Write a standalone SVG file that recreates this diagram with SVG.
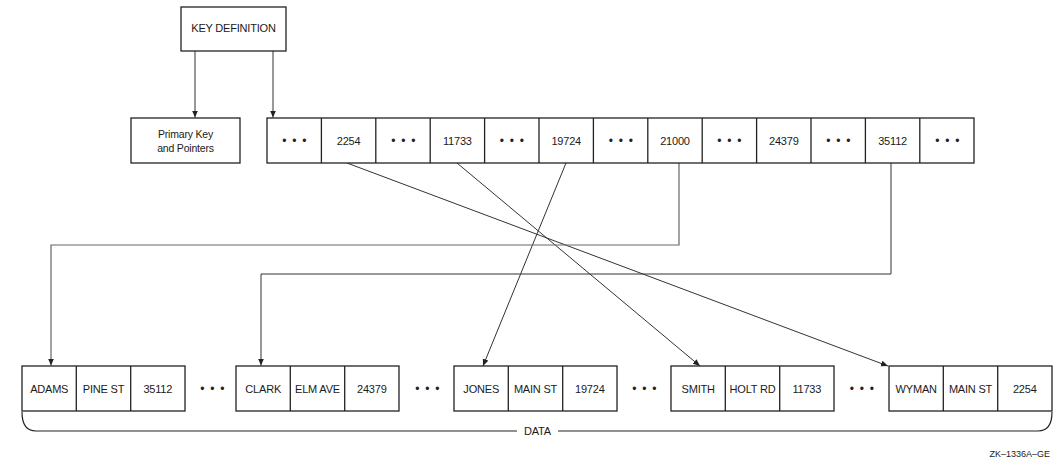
<svg xmlns="http://www.w3.org/2000/svg" width="1064" height="463" viewBox="0 0 1064 463">
  <style>
    .box { fill: #fff; stroke: #222; stroke-width: 1.3; }
    .div { stroke: #222; stroke-width: 1.3; fill: none; }
    .t { font-family: "Liberation Sans", Arial, sans-serif; font-size: 11px; fill: #1a1a1a; text-anchor: middle; letter-spacing: -0.2px; }
    .s { font-family: "Liberation Sans", Arial, sans-serif; font-size: 10.5px; fill: #1a1a1a; text-anchor: middle; letter-spacing: -0.2px; }
    .dots { font-family: "Liberation Sans", Arial, sans-serif; font-size: 12px; fill: #222; text-anchor: middle; letter-spacing: 1.2px; }
    .c { fill: none; stroke: #333; stroke-width: 1; }
    .cg { fill: none; stroke: #666; stroke-width: 1.2; }
    .brace { fill: none; stroke: #222; stroke-width: 1.2; }
    .id { font-family: "Liberation Sans", Arial, sans-serif; font-size: 9px; fill: #1a1a1a; text-anchor: end; }
  </style>
  <defs>
    <marker id="arr" markerUnits="userSpaceOnUse" markerWidth="8" markerHeight="7" refX="7" refY="3" orient="auto">
      <path d="M0,0 L7,3 L0,6 Z" fill="#222"/>
    </marker>
  </defs>
  <rect width="1064" height="463" fill="#fff"/>

  <g id="connectors">
    <line class="c" x1="195" y1="51" x2="195" y2="117.5" marker-end="url(#arr)"/>
    <line class="c" x1="273" y1="51" x2="273" y2="117.5" marker-end="url(#arr)"/>
    <line class="c" x1="347" y1="163" x2="888" y2="366" marker-end="url(#arr)"/>
    <line class="c" x1="457" y1="163" x2="700" y2="366" marker-end="url(#arr)"/>
    <line class="c" x1="566" y1="163" x2="483" y2="366" marker-end="url(#arr)"/>
    <path class="cg" d="M679,163 V245 H51 V365.5" marker-end="url(#arr)"/>
    <path class="c" d="M891,163 V274 H261 V365.5" marker-end="url(#arr)"/>
  </g>

  <g id="key-definition">
    <rect class="box" x="181" y="7" width="105" height="44"/>
    <text class="t" x="233.5" y="32">KEY DEFINITION</text>
  </g>

  <g id="primary-key">
    <rect class="box" x="131" y="118" width="109" height="45"/>
    <text class="s" x="185.5" y="138">Primary Key</text>
    <text class="s" x="185.5" y="152">and Pointers</text>
  </g>

  <g id="index-row">
    <rect class="box" x="267" y="118" width="707" height="45"/>
    <path class="div" d="M321.4,118V163 M375.8,118V163 M430.2,118V163 M484.6,118V163 M539,118V163 M593.4,118V163 M647.8,118V163 M702.2,118V163 M756.6,118V163 M811,118V163 M865.4,118V163 M919.8,118V163"/>
    <text class="dots" x="295" y="144.5">• • •</text>
    <text class="t" x="348.6" y="144.5">2254</text>
    <text class="dots" x="404" y="144.5">• • •</text>
    <text class="t" x="457.4" y="144.5">11733</text>
    <text class="dots" x="512.5" y="144.5">• • •</text>
    <text class="t" x="566.2" y="144.5">19724</text>
    <text class="dots" x="621.5" y="144.5">• • •</text>
    <text class="t" x="675" y="144.5">21000</text>
    <text class="dots" x="730" y="144.5">• • •</text>
    <text class="t" x="783.8" y="144.5">24379</text>
    <text class="dots" x="839" y="144.5">• • •</text>
    <text class="t" x="892.6" y="144.5">35112</text>
    <text class="dots" x="948" y="144.5">• • •</text>
  </g>

  <g id="record-adams">
    <rect class="box" x="22" y="366" width="163" height="45"/>
    <path class="div" d="M76.3,366V411 M130.7,366V411"/>
    <text class="t" x="49.2" y="392.5">ADAMS</text>
    <text class="t" x="103.5" y="392.5">PINE ST</text>
    <text class="t" x="157.8" y="392.5">35112</text>
  </g>
  <text class="dots" x="213" y="392.5">• • •</text>

  <g id="record-clark">
    <rect class="box" x="236" y="366" width="163" height="45"/>
    <path class="div" d="M290.3,366V411 M344.7,366V411"/>
    <text class="t" x="263.2" y="392.5">CLARK</text>
    <text class="t" x="317.5" y="392.5">ELM AVE</text>
    <text class="t" x="371.8" y="392.5">24379</text>
  </g>
  <text class="dots" x="428" y="392.5">• • •</text>

  <g id="record-jones">
    <rect class="box" x="454" y="366" width="163" height="45"/>
    <path class="div" d="M508.3,366V411 M562.7,366V411"/>
    <text class="t" x="481.2" y="392.5">JONES</text>
    <text class="t" x="535.5" y="392.5">MAIN ST</text>
    <text class="t" x="589.8" y="392.5">19724</text>
  </g>
  <text class="dots" x="645" y="392.5">• • •</text>

  <g id="record-smith">
    <rect class="box" x="671" y="366" width="163" height="45"/>
    <path class="div" d="M725.3,366V411 M779.7,366V411"/>
    <text class="t" x="698.2" y="392.5">SMITH</text>
    <text class="t" x="752.5" y="392.5">HOLT RD</text>
    <text class="t" x="806.8" y="392.5">11733</text>
  </g>
  <text class="dots" x="862.5" y="392.5">• • •</text>

  <g id="record-wyman">
    <rect class="box" x="889" y="366" width="163" height="45"/>
    <path class="div" d="M943.3,366V411 M997.7,366V411"/>
    <text class="t" x="916.2" y="392.5">WYMAN</text>
    <text class="t" x="970.5" y="392.5">MAIN ST</text>
    <text class="t" x="1024.8" y="392.5">2254</text>
  </g>

  <g id="data-brace">
    <path class="brace" d="M22,412 C22,425 27,431 36,431 H517 M558,431 H1038 C1047,431 1052,425 1052,412"/>
    <text class="t" x="537.5" y="435">DATA</text>
  </g>

  <text class="id" x="1050" y="457">ZK–1336A–GE</text>
</svg>
